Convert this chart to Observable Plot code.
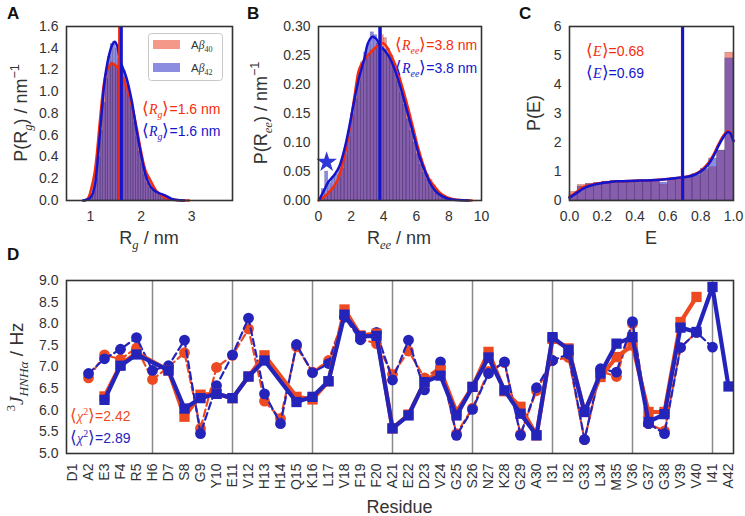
<!DOCTYPE html>
<html><head><meta charset="utf-8">
<script src="https://cdn.jsdelivr.net/npm/d3@7"></script>
<script src="https://cdn.jsdelivr.net/npm/@observablehq/plot@0.6"></script>
<style>
body{margin:0;background:#fff;}
#fig{position:relative;width:745px;height:516px;overflow:hidden;font-family:"Liberation Sans",Arial,sans-serif;}
#fig svg{position:absolute;overflow:visible;}
</style></head><body><div id="fig"></div>
<script>
// ---------------- Panel A : Rg distributions ----------------
const rgBinWidth = 0.05;
const rgEdges = [0.90,0.95,1.00,1.05,1.10,1.15,1.20,1.25,1.30,1.35,1.40,1.45,1.50,1.55,1.60,1.65,1.70,1.75,1.80,1.85,1.90,1.95,2.00,2.05,2.10,2.15,2.20,2.25,2.30,2.35,2.40,2.45,2.50,2.55,2.60,2.65,2.70,2.75,2.80,2.85];
const rgHist40 = [0.00,0.01,0.06,0.16,0.33,0.55,0.80,1.00,1.20,1.24,1.27,1.25,1.24,1.22,1.18,1.13,1.06,0.98,0.90,0.78,0.66,0.52,0.40,0.31,0.24,0.18,0.14,0.10,0.08,0.06,0.05,0.04,0.03,0.02,0.02,0.01,0.01,0.00,0.00,0.00];
const rgHist42 = [0.00,0.01,0.03,0.08,0.20,0.40,0.64,0.90,1.12,1.32,1.44,1.46,1.40,1.30,1.25,1.19,1.10,0.98,0.86,0.72,0.58,0.45,0.34,0.24,0.16,0.12,0.09,0.08,0.07,0.06,0.05,0.05,0.04,0.03,0.015,0.01,0.005,0.00,0.00,0.00];
const rgKde40X = [0.88,0.95,1.02,1.08,1.12,1.16,1.20,1.25,1.30,1.36,1.42,1.50,1.58,1.65,1.70,1.78,1.85,1.90,1.98,2.05,2.10,2.18,2.30,2.40,2.50,2.60,2.75,2.95];
const rgKde40Y = [0.00,0.02,0.12,0.25,0.40,0.60,0.80,1.02,1.16,1.23,1.26,1.24,1.19,1.12,1.05,0.95,0.81,0.70,0.50,0.34,0.26,0.19,0.09,0.05,0.02,0.01,0.003,0.00];
const rgKde42X = [0.85,0.95,1.02,1.09,1.15,1.22,1.28,1.35,1.42,1.48,1.53,1.58,1.63,1.71,1.81,1.91,2.01,2.10,2.20,2.30,2.40,2.50,2.60,2.70,2.85];
const rgKde42Y = [0.00,0.01,0.04,0.15,0.42,0.80,1.10,1.30,1.42,1.46,1.42,1.30,1.23,1.13,0.93,0.65,0.40,0.22,0.12,0.08,0.06,0.04,0.015,0.005,0.00];
const rgMeans = [1.575, 1.61];
const rgXTicks = [1,2,3];
const rgYTicks = [0,0.2,0.4,0.6,0.8,1.0,1.2,1.4,1.6];

// ---------------- Panel B : Ree distributions ----------------
const reeBinWidth = 0.2;
const reeEdges = [0.0,0.2,0.4,0.6,0.8,1.0,1.2,1.4,1.6,1.8,2.0,2.2,2.4,2.6,2.8,3.0,3.2,3.4,3.6,3.8,4.0,4.2,4.4,4.6,4.8,5.0,5.2,5.4,5.6,5.8,6.0,6.2,6.4,6.6,6.8,7.0,7.2,7.4,7.6,7.8,8.0,8.2,8.4,8.6];
const reeHist40 = [0.002,0.006,0.010,0.015,0.020,0.027,0.038,0.055,0.078,0.110,0.145,0.180,0.220,0.238,0.245,0.250,0.258,0.262,0.270,0.285,0.280,0.262,0.250,0.235,0.215,0.190,0.170,0.150,0.130,0.110,0.090,0.072,0.058,0.045,0.035,0.026,0.018,0.012,0.008,0.005,0.003,0.002,0.001,0.001];
const reeHist42 = [0.004,0.020,0.050,0.030,0.040,0.045,0.055,0.070,0.090,0.120,0.150,0.175,0.205,0.230,0.255,0.270,0.290,0.285,0.270,0.265,0.260,0.250,0.240,0.225,0.205,0.185,0.165,0.140,0.120,0.100,0.080,0.062,0.048,0.036,0.025,0.018,0.012,0.008,0.005,0.003,0.002,0.001,0.001,0.000];
const reeKde40X = [0.0,0.35,0.76,1.17,1.58,1.89,2.2,2.5,2.81,3.12,3.43,3.74,4.0,4.25,4.56,4.87,5.17,5.48,5.79,6.1,6.4,6.71,7.12,7.54,8.15,9.4];
const reeKde40Y = [0.0,0.006,0.018,0.035,0.075,0.121,0.178,0.227,0.243,0.253,0.262,0.269,0.271,0.262,0.244,0.221,0.193,0.161,0.127,0.092,0.064,0.041,0.024,0.011,0.003,0.0];
const reeKde42X = [0.06,0.35,0.6,0.97,1.27,1.58,1.89,2.2,2.5,2.81,3.02,3.28,3.53,3.8,4.05,4.35,4.66,4.97,5.28,5.59,5.89,6.2,6.51,6.92,7.33,7.95,9.2];
const reeKde42Y = [0.002,0.018,0.032,0.044,0.058,0.087,0.127,0.173,0.213,0.244,0.27,0.282,0.279,0.266,0.259,0.247,0.227,0.201,0.17,0.138,0.107,0.075,0.052,0.026,0.012,0.003,0.0];
const reeMeans = [3.86, 3.76];
const reeStar = {x: 0.5, y: 0.066};
const reeXTicks = [0,2,4,6,8,10];
const reeYTicks = [0,0.05,0.10,0.15,0.20,0.25,0.30];

// ---------------- Panel C : FRET efficiency ----------------
const eBinWidth = 0.05;
const eEdges = [0.00,0.05,0.10,0.15,0.20,0.25,0.30,0.35,0.40,0.45,0.50,0.55,0.60,0.65,0.70,0.75,0.80,0.85,0.90,0.95];
const eHist40 = [0.30,0.54,0.57,0.60,0.65,0.68,0.68,0.68,0.68,0.68,0.70,0.55,0.72,0.75,0.78,0.85,1.05,1.15,1.72,5.10];
const eHist42 = [0.20,0.48,0.57,0.60,0.65,0.66,0.68,0.68,0.68,0.68,0.70,0.62,0.72,0.75,0.80,0.92,1.10,1.45,1.72,4.90];
const eKde40X = [0,0.02,0.05,0.08,0.12,0.16,0.2,0.25,0.3,0.4,0.5,0.6,0.68,0.72,0.76,0.8,0.84,0.88,0.91,0.94,0.965,0.98,0.99,1.0];
const eKde40Y = [0.12,0.2,0.33,0.45,0.53,0.58,0.61,0.64,0.66,0.68,0.7,0.74,0.79,0.83,0.9,1.03,1.25,1.6,1.95,2.25,2.4,2.35,2.2,2.05];
const eKde42X = [0,0.02,0.05,0.08,0.12,0.16,0.2,0.25,0.3,0.4,0.5,0.6,0.68,0.72,0.76,0.8,0.84,0.88,0.91,0.94,0.965,0.98,0.99,1.0];
const eKde42Y = [0.1,0.17,0.28,0.4,0.5,0.56,0.6,0.64,0.66,0.68,0.7,0.74,0.79,0.82,0.88,1.0,1.2,1.55,1.9,2.2,2.36,2.32,2.2,2.05];
const eMeans = [0.683, 0.69];
const eXTicks = [0,0.2,0.4,0.6,0.8,1.0];
const eYTicks = [0,1,2,3,4,5,6];

// ---------------- Panel D : 3J(HN,Halpha) couplings ----------------
const residues = ["D1","A2","E3","F4","R5","H6","D7","S8","G9","Y10","E11","V12","H13","H14","Q15","K16","L17","V18","F19","F20","A21","E22","D23","V24","G25","S26","N27","K28","G29","A30","I31","I32","G33","L34","M35","V36","G37","G38","V39","V40","I41","A42"];
const gridResidues = ["H6","E11","K16","A21","S26","I31","V36","I41"];
// squares, solid lines
const sqAb40 = [null,null,6.32,7.05,7.33,null,6.92,5.85,6.36,6.38,6.28,6.78,7.27,null,6.31,6.25,6.67,8.33,7.73,7.77,5.58,5.90,6.65,6.92,5.96,6.54,7.35,6.44,6.08,5.42,7.65,7.43,5.96,6.77,7.23,7.50,5.96,5.96,8.04,8.62,null,null];
const sqAb42 = [null,null,6.24,7.03,7.29,null,6.92,6.04,6.28,6.38,6.28,6.78,7.15,null,6.19,6.31,6.67,8.21,7.71,7.72,5.58,5.88,6.65,6.80,5.88,6.54,7.22,6.46,5.92,5.42,7.69,7.40,5.96,6.85,7.54,7.69,5.73,5.91,7.91,7.81,8.85,6.55];
// circles, dashed lines
const ciAb40 = [null,6.75,7.28,7.18,7.44,6.71,7.00,7.33,5.58,6.99,7.27,7.88,6.21,5.81,7.47,6.88,7.15,8.18,7.65,7.54,6.83,7.37,6.75,7.00,5.46,6.05,6.90,7.10,5.45,6.45,7.15,7.22,5.32,6.90,6.78,8.00,5.69,5.52,7.45,7.80,null,null];
const ciAb42 = [null,6.85,7.19,7.41,7.68,6.92,7.03,7.62,5.46,6.57,7.28,8.13,6.38,5.69,7.52,6.87,7.08,8.15,7.63,7.80,6.70,7.62,6.47,7.12,5.42,6.02,6.85,7.12,5.42,6.52,7.15,7.30,5.32,6.96,6.88,8.05,5.69,5.46,7.45,7.80,7.46,null];
const dYTicks = [5.0,5.5,6.0,6.5,7.0,7.5,8.0,8.5,9.0];

// ---------------- annotations ----------------
const labels40 = {rg:"1.6", ree:"3.8", e:"0.68", chi:"2.42"};
const labels42 = {rg:"1.6", ree:"3.8", e:"0.69", chi:"2.89"};

// ---------------- styles ----------------
const RED_H = "#eb4628", BLUE_H = "#2d2dc8";
const RED_L = "#f52d0a", BLUE_L = "#1414cc";
const RED_D = "#ee4a22", BLUE_D = "#2424bb";
const HIST_OP = 0.55;
const FONT = "'Liberation Sans', Arial, sans-serif";
const MATH = "'Liberation Serif', 'DejaVu Serif', serif";
const axStyle = {fontFamily: FONT, fontSize: "14px", color: "#333", background: "transparent", overflow: "visible"};

const fig = document.getElementById("fig");
const bins = (edges, vals, w) => edges.map((x, i) => ({x1: x, x2: x + w, y: vals[i]}));
const pts = (xs, ys) => xs.map((x, i) => ({x, y: ys[i]}));
function place(svg, left, top) { svg.style.left = left + "px"; svg.style.top = top + "px"; fig.appendChild(svg); return svg; }

function histMarks(edges, h40, h42, w) {
  return [
    Plot.rectY(bins(edges, h40, w), {x1: "x1", x2: "x2", y: "y", fill: RED_H, fillOpacity: HIST_OP, stroke: "#3a2a4a", strokeOpacity: 0.35, strokeWidth: 0.5}),
    Plot.rectY(bins(edges, h42, w), {x1: "x1", x2: "x2", y: "y", fill: BLUE_H, fillOpacity: HIST_OP, stroke: "#3a2a4a", strokeOpacity: 0.35, strokeWidth: 0.5})
  ];
}
function axes(xt, yt, xf, yf) {
  return [
    Plot.axisX({ticks: xt, tickFormat: xf, tickSize: 0, tickPadding: 11, label: null, fontSize: 14}),
    Plot.axisY({ticks: yt, tickFormat: yf, tickSize: 0, tickPadding: 8, label: null, fontSize: 14}),
    Plot.frame({stroke: "#333", strokeWidth: 1.6})
  ];
}

// Panel A
const pA = Plot.plot({
  width: 245, height: 250, marginLeft: 66, marginRight: 13, marginTop: 26, marginBottom: 50,
  style: axStyle,
  x: {domain: [0.525, 3.81]}, y: {domain: [0, 1.6]},
  marks: [
    ...histMarks(rgEdges, rgHist40, rgHist42, rgBinWidth),
    Plot.line(pts(rgKde40X, rgKde40Y), {x: "x", y: "y", stroke: RED_L, strokeWidth: 2.5, curve: "catmull-rom"}),
    Plot.line(pts(rgKde42X, rgKde42Y), {x: "x", y: "y", stroke: BLUE_L, strokeWidth: 2.5, curve: "catmull-rom"}),
    Plot.ruleX([rgMeans[0]], {stroke: RED_L, strokeWidth: 3}),
    Plot.ruleX([rgMeans[1]], {stroke: BLUE_L, strokeWidth: 3}),
    ...axes(rgXTicks, rgYTicks, "d", ".1f")
  ]
});
place(pA, 0, 0);

// Panel B
const pB = Plot.plot({
  width: 250, height: 250, marginLeft: 73, marginRight: 14, marginTop: 26, marginBottom: 50,
  style: axStyle,
  x: {domain: [0, 10]}, y: {domain: [0, 0.30]},
  marks: [
    ...histMarks(reeEdges, reeHist40, reeHist42, reeBinWidth),
    Plot.line(pts(reeKde40X, reeKde40Y), {x: "x", y: "y", stroke: RED_L, strokeWidth: 2.5, curve: "catmull-rom"}),
    Plot.line(pts(reeKde42X, reeKde42Y), {x: "x", y: "y", stroke: BLUE_L, strokeWidth: 2.5, curve: "catmull-rom"}),
    Plot.ruleX([reeMeans[0]], {stroke: RED_L, strokeWidth: 1.2}),
    Plot.ruleX([reeMeans[1]], {stroke: BLUE_L, strokeWidth: 3}),
    Plot.dot([reeStar], {x: "x", y: "y", symbol: "star", r: 6.5, fill: "#2f36d8", stroke: "none"}),
    ...axes(reeXTicks, reeYTicks, "d", ".2f")
  ]
});
place(pB, 245, 0);

// Panel C
const pC = Plot.plot({
  width: 250, height: 250, marginLeft: 74, marginRight: 12, marginTop: 26, marginBottom: 50,
  style: axStyle,
  x: {domain: [0, 1]}, y: {domain: [0, 6]},
  marks: [
    ...histMarks(eEdges, eHist40, eHist42, eBinWidth),
    Plot.line(pts(eKde40X, eKde40Y), {x: "x", y: "y", stroke: RED_L, strokeWidth: 2.5, curve: "catmull-rom"}),
    Plot.line(pts(eKde42X, eKde42Y), {x: "x", y: "y", stroke: BLUE_L, strokeWidth: 2.5, curve: "catmull-rom"}),
    Plot.ruleX([eMeans[0]], {stroke: RED_L, strokeWidth: 1.2}),
    Plot.ruleX([eMeans[1]], {stroke: BLUE_L, strokeWidth: 3}),
    ...axes(eXTicks, eYTicks, ".1f", "d")
  ]
});
place(pC, 495, 0);

// Panel D
const ser = vals => residues.map((r, i) => ({r, v: vals[i]})).filter(d => d.v != null);
const pD = Plot.plot({
  width: 745, height: 271, marginLeft: 66, marginRight: 12, marginTop: 35, marginBottom: 63,
  style: axStyle,
  x: {type: "point", domain: residues, padding: 0}, y: {domain: [5, 9]},
  marks: [
    Plot.ruleX(gridResidues, {stroke: "#8a8a8a", strokeWidth: 1.5}),
    Plot.line(ser(ciAb40), {x: "r", y: "v", stroke: RED_D, strokeWidth: 2.2, strokeDasharray: "7,4"}),
    Plot.dot(ser(ciAb40), {x: "r", y: "v", r: 5.4, fill: RED_D, stroke: "none"}),
    Plot.line(ser(ciAb42), {x: "r", y: "v", stroke: BLUE_D, strokeWidth: 2.2, strokeDasharray: "7,4"}),
    Plot.dot(ser(ciAb42), {x: "r", y: "v", r: 5.4, fill: BLUE_D, stroke: "none"}),
    Plot.line(ser(sqAb40), {x: "r", y: "v", stroke: RED_D, strokeWidth: 4.2}),
    Plot.dot(ser(sqAb40), {x: "r", y: "v", symbol: "square", r: 5.8, fill: RED_D, stroke: "none"}),
    Plot.line(ser(sqAb42), {x: "r", y: "v", stroke: BLUE_D, strokeWidth: 4.2}),
    Plot.dot(ser(sqAb42), {x: "r", y: "v", symbol: "square", r: 5.8, fill: BLUE_D, stroke: "none"}),
    Plot.axisX({tickRotate: -90, tickSize: 0, tickPadding: 10, label: null, fontSize: 14}),
    Plot.axisY({ticks: dYTicks, tickFormat: ".1f", tickSize: 0, tickPadding: 8, label: null, fontSize: 14}),
    Plot.frame({stroke: "#333", strokeWidth: 1.6})
  ]
});
place(pD, 0, 245);

// ---------------- overlay text (rich labels) ----------------
const ov = d3.select(fig).append("svg").attr("width", 745).attr("height", 516)
  .style("left", "0px").style("top", "0px").style("pointer-events", "none");

function rich(x, y, parts, o = {}) {
  const size = o.size || 14;
  const t = ov.append("text").attr("font-size", size).attr("fill", o.fill || "#333")
    .attr("font-family", FONT).attr("text-anchor", o.anchor || "start");
  if (o.weight) t.attr("font-weight", o.weight);
  if (o.rotate) t.attr("transform", `translate(${x},${y}) rotate(${o.rotate})`);
  else t.attr("x", x).attr("y", y);
  let shift = 0;
  for (const p of parts) {
    const [s, st = ""] = Array.isArray(p) ? p : [p, ""];
    const ts = t.append("tspan").text(s);
    let target = 0;
    if (st.includes("sub")) target = 0.28 * size;
    if (st.includes("sup")) target = -0.42 * size;
    if (target !== shift) ts.attr("dy", target - shift);
    shift = target;
    if (target !== 0) ts.attr("font-size", size * 0.7);
    if (st.includes("i")) ts.attr("font-family", MATH).attr("font-style", "italic");
    if (st.includes("m")) ts.attr("font-family", MATH);
    if (st.includes("br")) ts.attr("font-family", "'DejaVu Sans', sans-serif").attr("font-size", size * 1.22).attr("font-weight", 300);
  }
  return t;
}
// panel letters
rich(7, 19, ["A"], {size: 17, weight: "bold", fill: "#111"});
rich(247, 19, ["B"], {size: 17, weight: "bold", fill: "#111"});
rich(519, 19, ["C"], {size: 17, weight: "bold", fill: "#111"});
rich(7, 260, ["D"], {size: 17, weight: "bold", fill: "#111"});

// axis labels
rich(149, 244, ["R", ["g", "i sub"], " / nm"], {size: 18, anchor: "middle"});
rich(399, 244, ["R", ["ee", "i sub"], " / nm"], {size: 18, anchor: "middle"});
rich(651, 244, ["E"], {size: 18, anchor: "middle"});
rich(27, 113, ["P(R", ["g", "i sub"], ") / nm", ["\u22121", "sup"]], {size: 18, anchor: "middle", rotate: -90});
rich(267, 113, ["P(R", ["ee", "i sub"], ") / nm", ["\u22121", "sup"]], {size: 18, anchor: "middle", rotate: -90});
rich(540, 113, ["P(E)"], {size: 18, anchor: "middle", rotate: -90});
rich(23, 367, [["3", "m sup"], ["J", "i"], ["HNH\u03b1", "i sub"], " / Hz"], {size: 19, anchor: "middle", rotate: -90});
rich(399.5, 513, ["Residue"], {size: 18, anchor: "middle"});

// in-panel annotations
const LB = ["\u27e8", "br"], RB = ["\u27e9", "br"];
const ann = [
  {x: 142, y: 114, c: RED_L, p: [LB, ["R", "i"], ["g", "i sub"], RB, "=" + labels40.rg + " nm"]},
  {x: 142, y: 136, c: BLUE_L, p: [LB, ["R", "i"], ["g", "i sub"], RB, "=" + labels42.rg + " nm"]},
  {x: 395, y: 50, c: RED_L, p: [LB, ["R", "i"], ["ee", "i sub"], RB, "=" + labels40.ree + " nm"]},
  {x: 395, y: 73, c: BLUE_L, p: [LB, ["R", "i"], ["ee", "i sub"], RB, "=" + labels42.ree + " nm"]},
  {x: 586, y: 56, c: RED_L, p: [LB, ["E", "i"], RB, "=" + labels40.e]},
  {x: 586, y: 78, c: BLUE_L, p: [LB, ["E", "i"], RB, "=" + labels42.e]},
  {x: 70, y: 421, c: RED_D, p: [LB, ["\u03c7", "i"], ["2", "m sup"], RB, "=" + labels40.chi]},
  {x: 70, y: 443, c: BLUE_D, p: [LB, ["\u03c7", "i"], ["2", "m sup"], RB, "=" + labels42.chi]}
];
for (const a of ann) rich(a.x, a.y, a.p, {size: 14, fill: a.c});

// legend in panel A
ov.append("rect").attr("x", 148.5).attr("y", 33.5).attr("width", 74).attr("height", 47).attr("rx", 3)
  .attr("fill", "#fff").attr("fill-opacity", 0.85).attr("stroke", "#c8c8c8");
ov.append("rect").attr("x", 153).attr("y", 40).attr("width", 27).attr("height", 9).attr("fill", RED_H).attr("fill-opacity", HIST_OP);
ov.append("rect").attr("x", 153).attr("y", 63).attr("width", 27).attr("height", 9).attr("fill", BLUE_H).attr("fill-opacity", HIST_OP);
rich(191, 49, ["A", ["\u03b2", "i"], ["40", "m sub"]], {size: 11.5});
rich(191, 72, ["A", ["\u03b2", "i"], ["42", "m sub"]], {size: 11.5});
</script></body></html>
